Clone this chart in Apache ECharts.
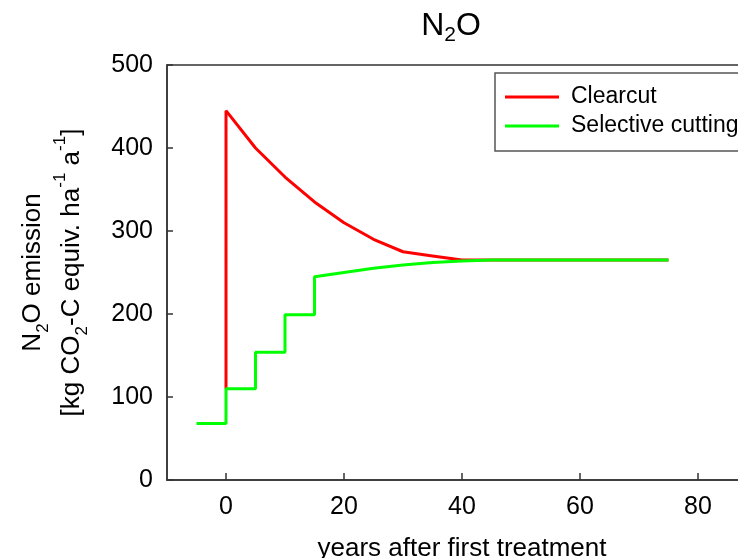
<!DOCTYPE html>
<html>
<head>
<meta charset="utf-8">
<script src="https://cdn.jsdelivr.net/npm/echarts@6/dist/echarts.min.js"></script>
<style>html,body{margin:0;padding:0;background:#fff}#c{width:738px;height:558px}</style>
</head>
<body>
<div id="c"></div>
<script>
// Data
var seriesNames = ['Clearcut', 'Selective cutting'];
var clearcutX = [0, 0, 5, 10, 15, 20, 25, 30, 35, 40, 45, 50, 55, 60, 65, 70, 75];
var clearcutY = [110, 445, 400, 365, 335, 310, 290, 275, 270, 265, 265, 265, 265, 265, 265, 265, 265];
var selectiveX = [-5, 0, 0, 5, 5, 10, 10, 15, 15, 20, 25, 30, 35, 40, 45, 50, 55, 60, 65, 70, 75];
var selectiveY = [68, 68, 110, 110, 154, 154, 199, 199, 245, 250, 255, 259, 262, 264, 265, 265, 265, 265, 265, 265, 265];
var xTicks = [0, 20, 40, 60, 80];

function pairs(xs, ys) { return xs.map(function (x, i) { return [x, ys[i]]; }); }

var FS = 25;
var NFS = 26;
var font = 'Liberation Sans, Arial, sans-serif';
var rich = {
  n: { fontSize: NFS, fontFamily: font, color: '#000', lineHeight: 39, fontWeight: 'normal' },
  sub: { fontSize: 17, fontFamily: font, color: '#000', lineHeight: 17, verticalAlign: 'bottom', fontWeight: 'normal' },
  sup: { fontSize: 17, fontFamily: font, color: '#000', lineHeight: 17, verticalAlign: 'top', fontWeight: 'normal' }
};
var richT = {
  n: { fontSize: 32, fontFamily: font, color: '#000', lineHeight: 40, fontWeight: 'normal' },
  sub: { fontSize: 21, fontFamily: font, color: '#000', lineHeight: 21, verticalAlign: 'bottom', fontWeight: 'normal' }
};

var chart = echarts.init(document.getElementById('c'), null, { renderer: 'canvas' });
chart.setOption({
  animation: false,
  backgroundColor: '#fff',
  title: {
    text: '{n|N}{sub|2}{n|O}',
    left: 451, top: 6, textAlign: 'center', padding: 0,
    textStyle: { rich: richT, fontWeight: 'normal' }
  },
  grid: {
    left: 167, top: 65, width: 590, height: 415,
    outerBoundsMode: 'none', containLabel: false,
    show: true, borderColor: '#333', borderWidth: 1.5, backgroundColor: 'transparent'
  },
  legend: {
    data: seriesNames,
    left: 495, top: 73,
    orient: 'vertical',
    icon: 'rect', itemWidth: 54, itemHeight: 3,
    itemGap: 5,
    padding: [12, 20, 13, 10],
    borderColor: '#555', borderWidth: 1.5, borderRadius: 0,
    backgroundColor: '#fff',
    textStyle: { fontSize: 23, fontFamily: font, color: '#000', lineHeight: 24, padding: [0, 0, 0, 7] }
  },
  xAxis: {
    type: 'value', min: -10, max: 90,
    name: 'years after first treatment', nameLocation: 'middle', nameGap: 56,
    nameTextStyle: { fontSize: NFS, fontFamily: font, color: '#000' },
    axisLine: { show: true, onZero: false, lineStyle: { color: '#333', width: 1.5 } },
    axisTick: { show: true, inside: true, length: 7, customValues: xTicks, lineStyle: { color: '#333', width: 1.5 } },
    axisLabel: { customValues: xTicks, fontSize: FS, fontFamily: font, color: '#000', margin: 15 },
    splitLine: { show: false }
  },
  yAxis: {
    type: 'value', min: 0, max: 500, interval: 100,
    name: '{n|N}{sub|2}{n|O emission}\n{n|[kg CO}{sub|2}{n|-C equiv. ha}{sup|-1}{n| a}{sup|-1}{n|]}',
    nameLocation: 'middle', nameRotate: 90, nameGap: 76,
    nameTextStyle: { rich: rich, align: 'center' },
    axisLine: { show: true, onZero: false, lineStyle: { color: '#333', width: 1.5 } },
    axisTick: { show: true, inside: true, length: 6, lineStyle: { color: '#333', width: 1.5 } },
    axisLabel: { fontSize: FS, fontFamily: font, color: '#000', margin: 14 },
    splitLine: { show: false }
  },
  series: [
    {
      name: seriesNames[0], type: 'line', data: pairs(clearcutX, clearcutY),
      showSymbol: false, symbol: 'none', lineStyle: { color: '#ff0000', width: 3 }, itemStyle: { color: '#ff0000' },
      z: 2
    },
    {
      name: seriesNames[1], type: 'line', data: pairs(selectiveX, selectiveY),
      showSymbol: false, symbol: 'none', lineStyle: { color: '#00ff00', width: 3 }, itemStyle: { color: '#00ff00' },
      z: 3
    }
  ]
});
</script>
</body>
</html>
